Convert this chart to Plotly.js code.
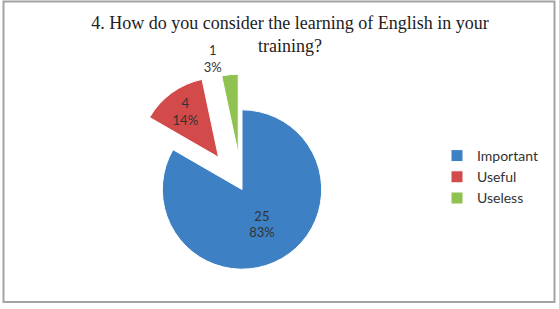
<!DOCTYPE html>
<html>
<head>
<meta charset="utf-8">
<script src="https://cdn.plot.ly/plotly-3.0.1.min.js"></script>
<style>html,body{margin:0;padding:0;background:#fff;}#chart{width:559px;height:309px;}</style>
</head>
<body>
<div id="chart"></div>
<script>
var labels = ['Important', 'Useful', 'Useless'];
var values = [25, 4, 1];
var pctLabels = ['83%', '14%', '3%'];
var colors = ['#3d80c4', '#d24b4a', '#8fc250'];
var pulls = [0, 0.5, 0.45];

var W = 559, H = 309;
var trace = {
  type: 'pie',
  labels: labels,
  values: values,
  text: pctLabels,
  texttemplate: '%{value}<br>%{text}',
  textposition: ['inside', 'inside', 'outside'],
  insidetextorientation: 'horizontal',
  sort: false,
  direction: 'clockwise',
  rotation: 0,
  pull: pulls,
  marker: {colors: colors, line: {width: 1, color: '#ffffff'}},
  textfont: {family: 'Lato, sans-serif', size: 13, color: '#333'},
  insidetextfont: {family: 'Lato, sans-serif', size: 13, color: '#333'},
  outsidetextfont: {family: 'Lato, sans-serif', size: 13, color: '#333'},
  domain: {x: [121 / W, 363 / W], y: [0, 1 - 70 / H]},
  hoverinfo: 'label+value+percent'
};

var layout = {
  width: W, height: H,
  margin: {l: 0, r: 0, t: 0, b: 0},
  paper_bgcolor: '#ffffff',
  plot_bgcolor: '#ffffff',
  title: {
    text: '4. How do you consider the learning of English in your<br>training?',
    font: {family: 'Liberation Serif, Times New Roman, serif', size: 18, color: '#222'},
    x: 290 / W, xanchor: 'center',
    y: 1 - 29 / H, yanchor: 'top', yref: 'container'
  },
  showlegend: true,
  legend: {
    x: 437 / W, xanchor: 'left',
    y: 1 - 177 / H, yanchor: 'middle',
    font: {family: 'Lato, sans-serif', size: 14, color: '#333'},
    bgcolor: 'rgba(0,0,0,0)'
  },
  shapes: [{
    type: 'rect', xref: 'paper', yref: 'paper',
    x0: 3.5 / W, x1: 554.5 / W, y0: 1 - 302 / H, y1: 1 - 1.5 / H,
    line: {color: '#a3a3a3', width: 2}
  }]
};

Plotly.newPlot('chart', [trace], layout, {displayModeBar: false, staticPlot: true});
</script>
</body>
</html>
